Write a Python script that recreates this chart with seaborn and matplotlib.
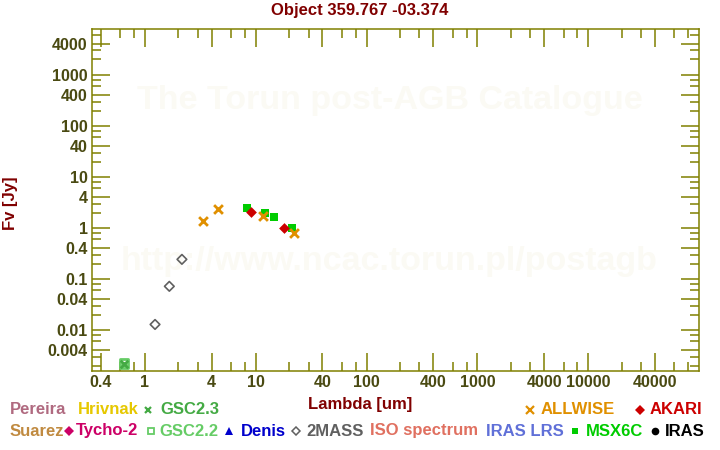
import matplotlib
matplotlib.use("Agg")
import matplotlib.pyplot as plt
from matplotlib.lines import Line2D
from matplotlib.ticker import FixedLocator, FixedFormatter, NullFormatter
import numpy as np
import pandas as pd
import seaborn as sns

# ---------------- data ----------------
title = "Object 359.767 -03.374"

twomass_lam = [1.235, 1.662, 2.159]
twomass_flux = [0.0129, 0.072, 0.243]

allwise_lam = [3.35, 4.6, 11.6, 22.1]
allwise_flux = [1.36, 2.33, 1.70, 0.79]

msx_lam = [8.28, 12.13, 14.65, 21.3]
msx_flux = [2.43, 1.95, 1.62, 0.99]

akari_lam = [9.0, 18.0]
akari_flux = [2.03, 0.99]

gsc22_lam = [0.647]
gsc22_flux = [0.0022]
gsc23_lam = [0.647]
gsc23_flux = [0.0022]

xmajor = [0.4, 1, 4, 10, 40, 100, 400, 1000, 4000, 10000, 40000]
xmajor_labels = ["0.4", "1", "4", "10", "40", "100", "400", "1000", "4000", "10000", "40000"]
ymajor = [0.004, 0.01, 0.04, 0.1, 0.4, 1, 4, 10, 40, 100, 400, 1000, 4000]
ymajor_labels = ["0.004", "0.01", "0.04", "0.1", "0.4", "1", "4", "10", "40", "100", "400", "1000", "4000"]

legend_row1 = ["Pereira", "Hrivnak", "GSC2.3", "ALLWISE", "AKARI"]
legend_row2 = ["Suarez", "Tycho-2", "GSC2.2", "Denis", "2MASS", "ISO spectrum", "IRAS LRS", "MSX6C", "IRAS"]

# ---------------- style ----------------
sns.set_theme(style="white")
plt.rcParams["font.family"] = ["Liberation Sans", "DejaVu Sans"]
plt.rcParams["font.weight"] = "bold"

W, H = 720, 450
fig = plt.figure(figsize=(7.2, 4.5), dpi=100)
L, R, T, B = 92, 699, 29, 371
ax = fig.add_axes([L / W, 1 - B / H, (R - L) / W, (B - T) / H])

OLIVE = "#808000"
TICKTXT = "#4a4a12"
DARKRED = "#800000"

colors = {
    "Pereira": "#b06a80", "Hrivnak": "#e6c800", "GSC2.3": "#44aa44",
    "ALLWISE": "#e09000", "AKARI": "#cc0000", "Suarez": "#c08a40",
    "Tycho-2": "#cc0066", "GSC2.2": "#66cc66", "Denis": "#0000cc",
    "2MASS": "#606060", "ISO spectrum": "#e07060", "IRAS LRS": "#6070d8",
    "MSX6C": "#00cc00", "IRAS": "#000000",
}

ax.set_xscale("log")
ax.set_yscale("log")

# watermark
ax.text(0.49, 0.79, "The Torun post-AGB Catalogue", transform=ax.transAxes,
        ha="center", va="center", fontsize=24.5, fontweight="bold",
        color="#fbfaf4", zorder=0)
ax.text(0.49, 0.32, "http://www.ncac.torun.pl/postagb", transform=ax.transAxes,
        ha="center", va="center", fontsize=24.5, fontweight="bold",
        color="#fbfaf4", zorder=0)

def df(lam, flux):
    return pd.DataFrame({"lam": lam, "flux": flux})

sns.scatterplot(data=df(gsc22_lam, gsc22_flux), x="lam", y="flux", ax=ax,
                marker="s", s=40, facecolor="none", edgecolor=colors["GSC2.2"],
                linewidth=2, zorder=3)
sns.scatterplot(data=df(gsc23_lam, gsc23_flux), x="lam", y="flux", ax=ax,
                marker="x", s=30, color=colors["GSC2.3"], linewidth=2, zorder=4)
sns.scatterplot(data=df(twomass_lam, twomass_flux), x="lam", y="flux", ax=ax,
                marker="D", s=24, facecolor="none", edgecolor=colors["2MASS"],
                linewidth=1.2, zorder=3)
sns.scatterplot(data=df(msx_lam, msx_flux), x="lam", y="flux", ax=ax,
                marker="s", s=36, color=colors["MSX6C"], edgecolor=colors["MSX6C"],
                linewidth=0, zorder=3)
sns.scatterplot(data=df(akari_lam, akari_flux), x="lam", y="flux", ax=ax,
                marker="D", s=30, color=colors["AKARI"], edgecolor=colors["AKARI"],
                linewidth=0, zorder=4)
sns.scatterplot(data=df(allwise_lam, allwise_flux), x="lam", y="flux", ax=ax,
                marker="x", s=40, color=colors["ALLWISE"], linewidth=2, zorder=5)

ax.set_xlim(1 / 3, 1e5)
ax.set_ylim(0.00158, 7900)
ax.set_xlabel("")
ax.set_ylabel("")

def minors(lo, hi, mult):
    out = []
    for e in range(lo, hi):
        for m in mult:
            out.append(m * 10.0 ** e)
    return out

ax.xaxis.set_major_locator(FixedLocator(xmajor))
ax.xaxis.set_major_formatter(FixedFormatter(xmajor_labels))
ax.xaxis.set_minor_locator(FixedLocator(minors(-1, 6, [2, 3, 6, 8])))
ax.xaxis.set_minor_formatter(NullFormatter())
ax.yaxis.set_major_locator(FixedLocator(ymajor))
ax.yaxis.set_major_formatter(FixedFormatter(ymajor_labels))
ax.yaxis.set_minor_locator(FixedLocator(minors(-3, 4, [2, 3, 6, 8])))
ax.yaxis.set_minor_formatter(NullFormatter())

ax.tick_params(which="both", direction="in", top=True, right=True,
               bottom=True, left=True, color=OLIVE, width=1.1)
ax.tick_params(which="major", length=13, labelsize=11.5, labelcolor=TICKTXT, pad=3)
ax.tick_params(which="minor", length=6.5)
for lab in ax.get_xticklabels() + ax.get_yticklabels():
    lab.set_fontweight("bold")
for sp in ax.spines.values():
    sp.set_color(OLIVE)
    sp.set_linewidth(1.1)

# titles / labels
def px(x, y):
    return x / W, 1 - y / H

fig.text(*px(360, 11), title, ha="center", va="center", fontsize=12,
         fontweight="bold", color=DARKRED)
fig.text(*px(10, 203), "Fv [Jy]", ha="center", va="center", rotation=90,
         fontsize=12, fontweight="bold", color=DARKRED)
fig.text(*px(360, 404), "Lambda [um]", ha="center", va="center", fontsize=12,
         fontweight="bold", color=DARKRED)

# legend entries (text + small marker)
legend_markers = {
    "GSC2.3": dict(marker="x", mfc="none", ms=4.5, mew=1.6),
    "ALLWISE": dict(marker="x", mfc="none", ms=6, mew=1.6),
    "AKARI": dict(marker="D", ms=5, mew=0),
    "Tycho-2": dict(marker="D", ms=5, mew=0),
    "GSC2.2": dict(marker="s", mfc="none", ms=4.5, mew=1.3),
    "Denis": dict(marker="^", ms=5.5, mew=0),
    "2MASS": dict(marker="D", mfc="none", ms=4.5, mew=1.1),
    "MSX6C": dict(marker="s", ms=5, mew=0),
    "IRAS": dict(marker="o", ms=5.5, mew=0),
}
row1_x = [10, 78, 160, 541, 650]
row2_x = [10, 76, 159, 241, 306, 370, 486, 586, 665]
mark1_x = [None, None, 148, 530, 640]
mark2_x = [None, 69, 151, 229, 296, None, None, 575, 655]

def put_row(names, xs, mxs, y):
    for name, x, mx in zip(names, xs, mxs):
        c = colors[name]
        fig.text(*px(x, y), name, ha="left", va="center", fontsize=12,
                 fontweight="bold", color=c)
        if mx is not None:
            kw = dict(legend_markers[name])
            kw.setdefault("mfc", c)
            fig.add_artist(Line2D([mx / W], [1 - y / H], transform=fig.transFigure,
                                  color=c, mec=c, linestyle="none", **kw))

put_row(legend_row1, row1_x, mark1_x, 410)
put_row(legend_row2, row2_x, mark2_x, 431)

fig.savefig("out.png", dpi=100)
